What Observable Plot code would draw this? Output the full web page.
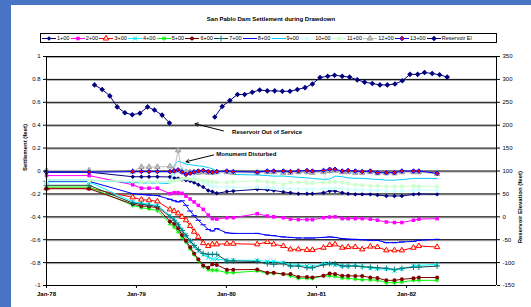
<!DOCTYPE html>
<html><head><meta charset="utf-8">
<script src="https://cdn.jsdelivr.net/npm/d3@7"></script>
<script src="https://cdn.jsdelivr.net/npm/@observablehq/plot@0.6"></script>
<style>
html,body{margin:0;padding:0;width:531px;height:307px;overflow:hidden;background:#4774c4;font-family:"Liberation Sans",Arial,sans-serif;}
#panel{position:absolute;left:11px;top:5px;width:520px;height:302px;background:#fff;}
#title{position:absolute;left:11px;top:15px;width:520px;text-align:center;font-weight:bold;font-size:6px;line-height:8px;color:#000;}
#legend{position:absolute;left:40px;top:33px;width:457px;height:10px;box-sizing:border-box;border:1.5px solid #000;display:flex;align-items:center;padding-left:1px;background:#fff;overflow:hidden;}
#legend .it{display:flex;align-items:center;margin-right:1.3px;flex-shrink:0;white-space:nowrap;}
#legend .it span{font-size:5.5px;line-height:6px;margin-left:1px;color:#000;white-space:nowrap;}
#chart{position:absolute;left:0;top:47px;}
</style></head><body>
<div id="panel"></div>
<div id="title">San Pablo Dam Settlement during Drawdown</div>
<div id="legend"></div>
<div id="chart"></div>
<script>
// ---- data ----
const readDates = ["1978-01-01","1978-06-23","1978-12-17","1979-01-21","1979-02-21","1979-03-27","1979-05-17","1979-06-03","1979-06-19","1979-07-05","1979-07-21","1979-08-07","1979-08-23","1979-09-09","1979-09-29","1979-10-19","1979-11-05","1979-11-23","1980-01-03","1980-01-29","1980-05-05","1980-06-15","1980-07-11","1980-08-19","1980-09-17","1980-10-19","1980-11-23","1980-12-15","1981-01-29","1981-02-23","1981-03-17","1981-04-15","1981-05-09","1981-06-07","1981-07-05","1981-08-07","1981-09-05","1981-10-11","1981-11-13","1981-12-13","1982-01-29","1982-02-20","1982-05-05"];

const sta1 = [-0.01,-0.01,-0.05,-0.05,-0.05,-0.05,-0.052,-0.06,-0.065,-0.075,
  -0.08,-0.087,-0.10,-0.12,-0.14,-0.17,-0.18,-0.195,-0.18,-0.175,
  -0.16,-0.165,-0.17,-0.183,-0.19,-0.198,-0.198,-0.198,-0.19,-0.175,
  -0.175,-0.19,-0.198,-0.204,-0.204,-0.204,-0.21,-0.218,-0.218,-0.218,
  -0.204,-0.2,-0.204];
const sta2 = [-0.04,-0.04,-0.12,-0.15,-0.15,-0.15,-0.198,-0.19,-0.19,-0.195,
  -0.22,-0.245,-0.27,-0.30,-0.335,-0.385,-0.416,-0.42,-0.408,-0.408,
  -0.373,-0.393,-0.40,-0.408,-0.42,-0.425,-0.425,-0.425,-0.408,-0.402,
  -0.40,-0.416,-0.416,-0.416,-0.416,-0.42,-0.43,-0.445,-0.45,-0.45,
  -0.43,-0.42,-0.416];
const sta3 = [-0.15,-0.15,-0.23,-0.25,-0.255,-0.265,-0.335,-0.35,-0.37,-0.40,
  -0.43,-0.48,-0.53,-0.575,-0.63,-0.655,-0.64,-0.64,-0.635,-0.635,
  -0.64,-0.62,-0.64,-0.655,-0.684,-0.684,-0.69,-0.69,-0.67,-0.646,
  -0.64,-0.67,-0.664,-0.664,-0.684,-0.66,-0.664,-0.693,-0.693,-0.693,
  -0.67,-0.655,-0.664];
const sta4 = [-0.095,-0.095,-0.27,-0.28,-0.29,-0.30,-0.39,-0.42,-0.46,-0.51,
  -0.56,-0.61,-0.66,-0.70,-0.73,-0.755,-0.77,-0.77,-0.78,-0.78,
  -0.78,-0.79,-0.79,-0.80,-0.82,-0.82,-0.83,-0.835,-0.81,-0.81,
  -0.82,-0.83,-0.83,-0.82,-0.835,-0.85,-0.855,-0.855,-0.87,-0.855,
  -0.83,-0.825,-0.815];
const sta5 = [-0.14,-0.14,-0.30,-0.32,-0.33,-0.345,-0.46,-0.49,-0.53,-0.58,
  -0.62,-0.68,-0.73,-0.78,-0.835,-0.86,-0.867,-0.867,-0.888,-0.888,
  -0.873,-0.893,-0.893,-0.90,-0.915,-0.937,-0.937,-0.937,-0.917,-0.917,
  -0.92,-0.935,-0.937,-0.945,-0.95,-0.95,-0.955,-0.975,-0.975,-0.97,
  -0.955,-0.955,-0.955];
const sta6 = [-0.155,-0.155,-0.29,-0.305,-0.31,-0.32,-0.44,-0.46,-0.50,-0.56,
  -0.61,-0.665,-0.72,-0.77,-0.825,-0.845,-0.815,-0.82,-0.862,-0.862,
  -0.86,-0.888,-0.888,-0.90,-0.90,-0.925,-0.925,-0.93,-0.915,-0.895,
  -0.90,-0.915,-0.915,-0.917,-0.917,-0.93,-0.935,-0.955,-0.955,-0.946,
  -0.937,-0.93,-0.93];
const sta7 = [-0.125,-0.125,-0.28,-0.29,-0.30,-0.31,-0.40,-0.43,-0.47,-0.52,
  -0.565,-0.61,-0.65,-0.685,-0.72,-0.728,-0.728,-0.728,-0.786,-0.786,
  -0.79,-0.81,-0.815,-0.81,-0.83,-0.83,-0.845,-0.845,-0.82,-0.81,
  -0.81,-0.83,-0.83,-0.83,-0.835,-0.84,-0.845,-0.85,-0.86,-0.85,
  -0.84,-0.84,-0.83];
const sta8 = [-0.09,-0.09,-0.198,-0.205,-0.21,-0.215,-0.247,-0.26,-0.27,-0.26,
  -0.30,-0.35,-0.39,-0.43,-0.47,-0.51,-0.524,-0.504,-0.54,-0.545,
  -0.545,-0.56,-0.565,-0.576,-0.58,-0.585,-0.585,-0.585,-0.58,-0.576,
  -0.58,-0.59,-0.595,-0.597,-0.6,-0.605,-0.605,-0.626,-0.626,-0.62,
  -0.615,-0.605,-0.597];
const sta9 = [-0.08,-0.08,-0.10,-0.105,-0.105,-0.105,-0.11,0.05,0.085,0.075,
  0.06,0.055,0.05,0.045,0.04,0.03,0.02,0.0,-0.02,-0.03,
  -0.035,-0.04,-0.045,-0.044,-0.05,-0.055,-0.06,-0.065,-0.073,-0.07,
  -0.044,-0.05,-0.06,-0.064,-0.064,-0.07,-0.073,-0.08,-0.08,-0.075,
  -0.065,-0.064,-0.065];
const sta10 = [-0.08,-0.08,-0.09,-0.09,-0.09,-0.09,-0.09,-0.03,0.0,0.02,
  0.0,-0.02,-0.05,-0.08,-0.10,-0.12,-0.13,-0.14,-0.14,-0.145,
  -0.14,-0.145,-0.15,-0.15,-0.155,-0.155,-0.16,-0.16,-0.155,-0.15,
  -0.15,-0.155,-0.16,-0.165,-0.165,-0.17,-0.17,-0.175,-0.175,-0.175,
  -0.17,-0.165,-0.17];
const sta11 = [-0.085,-0.085,-0.09,-0.095,-0.095,-0.095,-0.095,-0.09,-0.08,-0.07,
  -0.065,-0.07,-0.075,-0.08,-0.085,-0.09,-0.095,-0.1,-0.1,-0.095,
  -0.087,-0.095,-0.1,-0.116,-0.1,-0.1,-0.105,-0.105,-0.1,-0.095,
  -0.095,-0.1,-0.11,-0.12,-0.125,-0.13,-0.13,-0.135,-0.135,-0.135,
  -0.13,-0.135,-0.135];
const sta12 = [0.005,0.005,-0.005,0.035,0.035,0.035,0.04,0.0,0.18,-0.005,
  -0.01,-0.01,-0.01,-0.015,-0.01,-0.015,-0.015,-0.01,-0.01,-0.015,
  -0.015,-0.01,-0.01,-0.015,-0.015,-0.01,-0.01,-0.015,-0.01,0.0,
  0.005,-0.01,-0.01,-0.015,-0.015,-0.01,-0.02,-0.02,-0.02,-0.01,
  -0.01,-0.01,-0.025];
const sta13 = [-0.01,-0.01,-0.005,-0.005,-0.005,-0.005,-0.005,0.0,0.01,-0.01,
  -0.03,-0.02,-0.01,0.0,0.005,-0.005,-0.01,-0.005,0.0,-0.005,
  -0.01,0.0,0.0,0.0,-0.005,0.0,0.005,0.0,0.005,0.015,
  0.015,0.0,0.005,0.0,-0.005,0.0,-0.015,-0.015,-0.015,0.0,
  0.0,0.0,-0.02];

const resDates = ["1978-07-15","1978-08-15","1978-09-15","1978-10-15","1978-11-15","1978-12-15","1979-01-15","1979-02-15","1979-03-15","1979-04-15","1979-05-15","1979-08-15","1979-11-15","1979-12-15","1980-01-15","1980-02-15","1980-03-15","1980-04-15","1980-05-15","1980-06-15","1980-07-15","1980-08-15","1980-09-15","1980-10-15","1980-11-15","1980-12-15","1981-01-15","1981-02-15","1981-03-15","1981-04-15","1981-05-15","1981-06-15","1981-07-15","1981-08-15","1981-09-15","1981-10-15","1981-11-15","1981-12-15","1982-01-15","1982-02-15","1982-03-15","1982-04-15","1982-05-15","1982-06-15"];
const resElev = [288,278,264,240,227,223,226,240,233,222,205,null,218,241,254,267,267,272,277,275,275,274,274,278,282,290,304,307,309,307,305,299,294,291,288,288,290,297,311,311,315,313,310,305];

const seriesNames = ["1+00","2+00","3+00","4+00","5+00","6+00","7+00","8+00","9+00","10+00","11+00","12+00","13+00"];
const reservoirName = "Reservoir El";
const leftTicks = [-1,-0.8,-0.6,-0.4,-0.2,0,0.2,0.4,0.6,0.8,1];
const gridVals = [-0.8,-0.6,-0.4,-0.2,0,0.2,0.4,0.6,0.8,1];
const rightTicks = [-150,-100,-50,0,50,100,150,200,250,300,350];
const xTickDates = ["1978-01-01","1979-01-01","1980-01-01","1981-01-01","1982-01-01"];
const xDomain = ["1978-01-01","1983-01-01"];
const elevAtZero = 100, elevPerFoot = 250; // right axis: elevation = 100 + 250 * settlement

const noteText = ["Reservoir Out of Service","Monument Disturbed"];
const noteDate = ["1980-01-24","1979-11-21"];
const noteVal = [0.34, 0.151];
const arrowFromDate = ["1979-12-20","1979-11-10"];
const arrowFromVal = [0.35, 0.14];
const arrowToDate = ["1979-08-27","1979-07-21"];
const arrowToVal = [0.413, 0.081];

// ---- styles ----
const dashSym = {draw(ctx, size){ const w = Math.sqrt(size) * 0.8; ctx.moveTo(-w, 0); ctx.lineTo(w, 0); }};
const styles = [
  {line:"#000080", symbol:"diamond2", fill:"#000080", stroke:"none"},
  {line:"#FF00FF", symbol:"square", fill:"#FF00FF", stroke:"none"},
  {line:"#FF0000", symbol:"triangle", fill:"#FFF2CC", stroke:"#FF0000"},
  {line:"#00FFFF", symbol:"times", fill:"none", stroke:"#00E5E5"},
  {line:"#00FF00", symbol:"asterisk", fill:"none", stroke:"#00EE00"},
  {line:"#800000", symbol:"circle", fill:"#800000", stroke:"none"},
  {line:"#1f4040", symbol:"plus", fill:"none", stroke:"#008080"},
  {line:"#0000FF", symbol:dashSym, fill:"none", stroke:"#0000FF"},
  {line:"#00CCFF", symbol:null, fill:"none", stroke:"none"},
  {line:"#CCFFFF", symbol:"circle", fill:"#CCFFFF", stroke:"none"},
  {line:"#CCFFCC", symbol:"square", fill:"#CCFFCC", stroke:"none"},
  {line:"#C0C0C0", symbol:"triangle", fill:"#C8C8C8", stroke:"#999999"},
  {line:"#0000FF", symbol:"diamond2", fill:"#FF0000", stroke:"#0000FF"}
];
const resStyle = {line:"#000080", symbol:"diamond2", fill:"#000080", stroke:"none"};
const seriesValues = [sta1,sta2,sta3,sta4,sta5,sta6,sta7,sta8,sta9,sta10,sta11,sta12,sta13];
const R = 2.0;

// ---- marks ----
const marks = [
  Plot.ruleY(gridVals, {stroke:"#a8a8a8", dy: 1}),
  Plot.ruleY(gridVals, {stroke:"#000", strokeWidth: 1}),
];
seriesValues.forEach((vals, k) => {
  const st = styles[k];
  const rows = readDates.map((d, i) => ({date: new Date(d), v: vals[i]})).filter(r => r.v != null);
  marks.push(Plot.line(rows, {x:"date", y:"v", stroke: st.line, strokeWidth: 1}));
  if (st.symbol) marks.push(Plot.dot(rows, {x:"date", y:"v", symbol: st.symbol, r: R, fill: st.fill, stroke: st.stroke, strokeWidth: 1}));
});
const resRows = resDates.map((d, i) => ({date: new Date(d), e: resElev[i]}));
const resY = r => r.e == null ? NaN : (r.e - elevAtZero) / elevPerFoot;
marks.push(Plot.line(resRows, {x:"date", y: resY, stroke: resStyle.line, strokeWidth: 1}));
marks.push(Plot.dot(resRows.filter(r => r.e != null), {x:"date", y: resY, symbol: resStyle.symbol, r: R + 0.5, fill: resStyle.fill}));

// axes and frame
marks.push(
  Plot.ruleX([new Date(xDomain[0]), new Date(xDomain[1])], {stroke:"#000"}),
  Plot.ruleY([-1], {stroke:"#000"}),
  Plot.axisY({ticks: leftTicks, anchor:"left", tickSize: 3, tickPadding: 3, tickFormat: d => String(d), label: null}),
  Plot.axisY({ticks: rightTicks.map(e => (e - elevAtZero) / elevPerFoot), anchor:"right", tickSize: 3, tickPadding: 3,
    tickFormat: s => String(Math.round(s * elevPerFoot + elevAtZero)), label: null}),
  Plot.axisX({ticks: xTickDates.map(d => new Date(d)), tickSize: 3, tickPadding: 3, tickFormat: d3.utcFormat("%b-%y"), label: null, fontWeight: "bold"}),
  Plot.text(["Settlement (feet)"], {text: d => d, frameAnchor:"left", dx: -21, rotate: -90, fontWeight:"bold"}),
  Plot.text(["Reservoir Elevation (feet)"], {text: d => d, frameAnchor:"right", dx: 24, rotate: -90, fontWeight:"bold"}),
  Plot.arrow(noteText.map((t, i) => i), {x1: i => new Date(arrowFromDate[i]), y1: i => arrowFromVal[i], x2: i => new Date(arrowToDate[i]), y2: i => arrowToVal[i], stroke:"#000", strokeWidth: 1, headLength: 5}),
  Plot.text(noteText.map((t, i) => i), {x: i => new Date(noteDate[i]), y: i => noteVal[i], text: i => noteText[i], textAnchor:"start", lineAnchor:"middle", fontWeight:"bold", fontSize: 6})
);

const chart = Plot.plot({
  width: 531, height: 260,
  marginLeft: 46, marginRight: 35, marginTop: 9, marginBottom: 22,
  x: {type:"utc", domain: xDomain.map(d => new Date(d))},
  y: {domain: [-1, 1]},
  style: {fontFamily:"Liberation Sans, Arial, sans-serif", fontSize:"6px", background:"transparent", color:"#000"},
  marks
});
document.getElementById("chart").appendChild(chart);

// ---- legend ----
const symMap = {diamond2: d3.symbolDiamond2, square: d3.symbolSquare, triangle: d3.symbolTriangle, times: d3.symbolTimes,
  asterisk: d3.symbolAsterisk, circle: d3.symbolCircle, plus: d3.symbolPlus};
const legend = d3.select("#legend");
const legItems = seriesNames.map((n, k) => ({name: n, st: styles[k], r: R})).concat([{name: reservoirName, st: resStyle, r: R + 0.5}]);
legItems.forEach(it => {
  const div = legend.append("div").attr("class", "it");
  const svg = div.append("svg").attr("width", 14).attr("height", 7);
  svg.append("line").attr("x1", 0).attr("x2", 14).attr("y1", 3.5).attr("y2", 3.5).attr("stroke", it.st.line).attr("stroke-width", 1);
  if (it.st.symbol) {
    const type = typeof it.st.symbol === "string" ? symMap[it.st.symbol] : it.st.symbol;
    svg.append("path").attr("transform", "translate(7,3.5)")
      .attr("d", d3.symbol(type, Math.PI * it.r * it.r)())
      .attr("fill", it.st.fill).attr("stroke", it.st.stroke).attr("stroke-width", 1);
  }
  div.append("span").text(it.name);
});
</script>
</body></html>
